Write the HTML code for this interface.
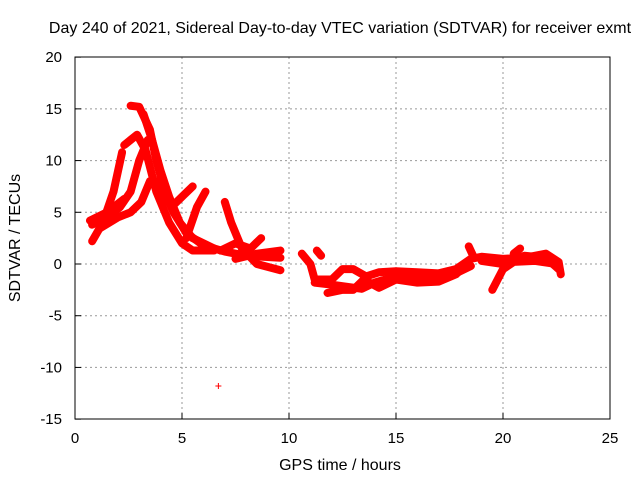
<!DOCTYPE html>
<html><head><meta charset="utf-8"><style>
body{margin:0;background:#fff}
svg{display:block;font-family:"Liberation Sans",sans-serif}
</style></head><body>
<svg id="c" width="640" height="480">
<rect width="640" height="480" fill="#fff"/>
<text x="340" y="33" font-size="16" text-anchor="middle">Day 240 of 2021, Sidereal Day-to-day VTEC variation (SDTVAR) for receiver exmt</text>
<text x="340" y="470" font-size="16" text-anchor="middle">GPS time / hours</text>
<text x="20" y="238" font-size="16" text-anchor="middle" transform="rotate(-90 20 238)">SDTVAR / TECUs</text>
<g id="grid"></g><g id="marks"></g>
<rect x="75" y="57" width="535" height="362" fill="none" stroke="#000"/>
</svg>
<script>
const xTicks=[0,5,10,15,20,25];
const yTicks=[-15,-10,-5,0,5,10,15,20];
const track1=[[0.8,2.2],[1.3,4],[1.8,7],[2.2,10.8]];
const track2=[[0.7,4.2],[1.5,5],[2.3,6.3]];
const track3=[[0.8,3.8],[1.5,4.5],[2.1,5.5],[2.6,7],[3.0,10],[3.4,12]];
const track4=[[2.6,15.3],[3.0,15.2],[3.5,13],[3.8,10],[4.2,7],[4.6,5],[5.2,3],[6,1.8],[7,1.2],[8,0.8],[9.6,0.6]];
const track4b=[[3.2,14.5],[3.6,12],[4.0,9],[4.4,6.5],[4.9,4],[5.5,2.5],[6.5,1.5]];
const track5=[[2.3,11.5],[2.9,12.5],[3.3,11],[3.8,7],[4.4,4],[5,2],[5.5,1.3],[6.5,1.3]];
const track6=[[1.2,3.5],[2,4.5],[2.6,5],[3.1,6],[3.5,8],[3.9,8],[4.5,5.5],[5,6.5],[5.5,7.5]];
const track7=[[5.2,2.5],[5.7,5.5],[6.1,7]];
const track8=[[7,6],[7.3,4],[7.8,1.5],[8.5,0],[9.6,-0.6]];
const track9=[[6.8,1.3],[7.5,2],[8.2,1.5],[8.7,2.5]];
const track10=[[7.5,0.5],[8.5,1],[9.6,1.3]];
const track11=[[10.6,1],[11,0],[11.2,-1.5],[12,-1.5],[12.5,-0.5],[13,-0.5],[13.6,-1.2],[14.2,-0.8],[15,-0.7],[16,-0.8],[17,-0.9],[17.8,-0.5],[18.5,0.5],[19,0.7],[20,0.5],[21,0.6],[22,1],[22.6,0.2],[22.7,-1]];
const track12=[[11.8,-2.8],[12.5,-2.5],[13,-2.5],[13.5,-1.5],[14.2,-2.3],[15,-1.5],[16,-1.8],[17,-1.7],[17.8,-1],[18.3,0]];
const track12b=[[11.2,-1.8],[12,-2],[13.4,-2.4],[14,-1.8],[15,-1.2],[16.2,-1.3],[17.5,-1.2],[18.5,-0.2]];
const track13=[[19.5,-2.5],[20,-0.5],[20.5,0.2],[21.5,0.3],[22.5,0]];
const track13b=[[19,0.3],[20,0],[21,0.8],[22,0.6],[22.6,-0.5]];
const track14=[[18.4,1.7],[18.6,0.8]];
const track15=[[20.5,1],[20.8,1.5]];
const track16=[[11.3,1.3],[11.5,0.8]];
const tracks=[track1,track2,track3,track4,track4b,track5,track6,track7,track8,track9,track10,track11,track12,track12b,track13,track13b,track14,track15,track16];
const outliers=[[6.7,-11.8]];
const X=v=>75+v*(535/25), Y=v=>264-v*(362/35);
const NS="http://www.w3.org/2000/svg";
const g=document.getElementById('grid'), m=document.getElementById('marks'), svg=document.getElementById('c');
function mk(t,a,p){const e=document.createElementNS(NS,t);for(const k in a)e.setAttribute(k,a[k]);p.appendChild(e);return e;}
xTicks.forEach(v=>{
 if(v>0&&v<25){const l=mk('line',{x1:X(v),x2:X(v),y1:57,y2:419,stroke:'#999','stroke-dasharray':'2,3'},g);
 
 }
 const t=mk('text',{x:X(v),y:443,'font-size':15,'text-anchor':'middle'},svg);t.textContent=v;
 
 
 mk('line',{x1:X(v),x2:X(v),y1:419,y2:413,stroke:'#000'},svg);
});
yTicks.forEach(v=>{
 if(v>-15&&v<20){const l=mk('line',{x1:75,x2:610,y1:Y(v),y2:Y(v),stroke:'#999','stroke-dasharray':'2,3'},g);
 
 }
 const t=mk('text',{x:62,y:Y(v)+5,'font-size':15,'text-anchor':'end'},svg);t.textContent=v;
 
 
 mk('line',{x1:75,x2:81,y1:Y(v),y2:Y(v),stroke:'#000'},svg);
});
tracks.forEach(tr=>{
 const p=mk('polyline',{points:tr.map(d=>X(d[0])+','+Y(d[1])).join(' '),fill:'none',stroke:'#f00','stroke-width':8,'stroke-linejoin':'round','stroke-linecap':'round'},m);
 
 
});
outliers.forEach(d=>{
 const t=mk('path',{d:`M${X(d[0])-3},${Y(d[1])}h6M${X(d[0])},${Y(d[1])-3}v6`,stroke:'#f00','stroke-width':1},m);
 
 
});
</script>
</body></html>
